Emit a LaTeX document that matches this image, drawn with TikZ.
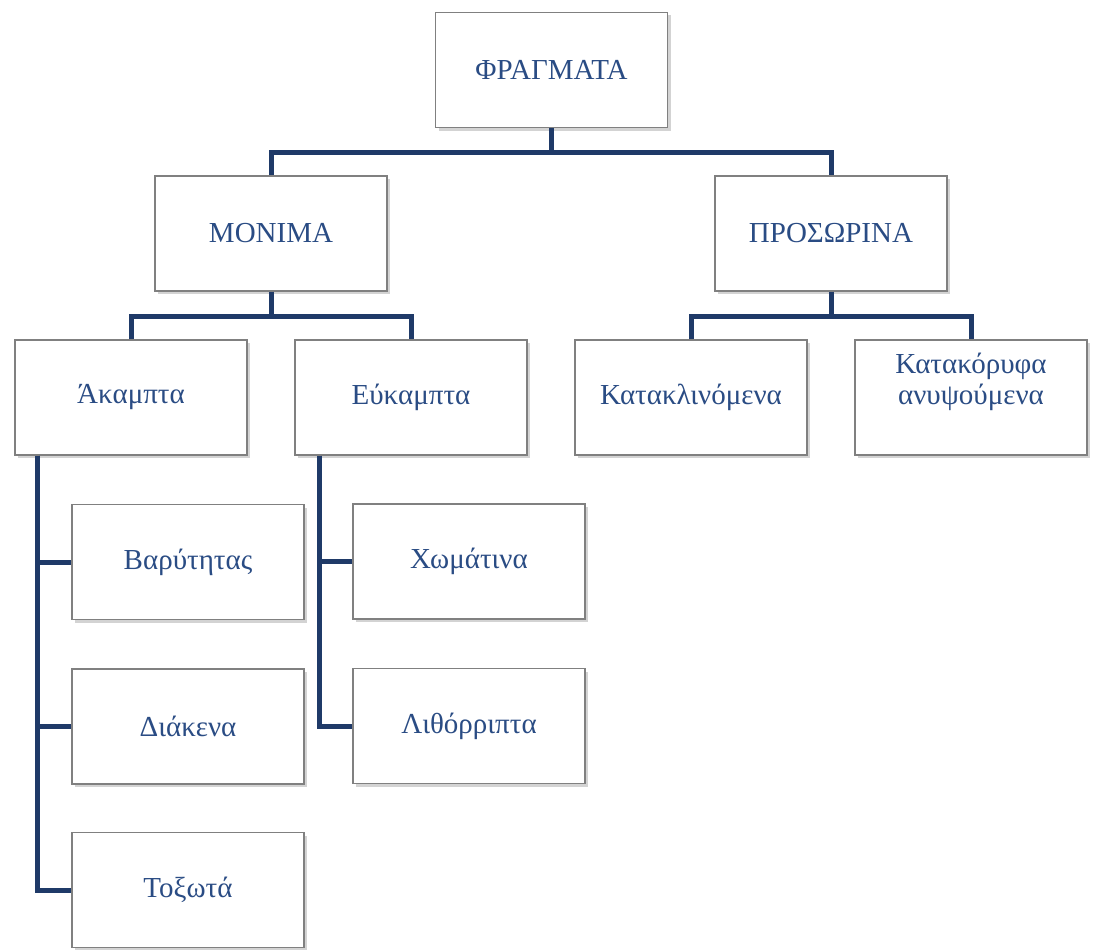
\documentclass[tikz,border=0pt]{standalone}
\usepackage{fontspec}
\setmainfont{Liberation Serif}
\usetikzlibrary{shadows}

\definecolor{linkblue}{RGB}{31,58,104}
\definecolor{textblue}{RGB}{42,76,132}
\definecolor{boxgray}{RGB}{128,128,128}

\tikzset{
  box/.style={draw=boxgray, line width=1.2pt, fill=white, text=textblue,
    minimum width=232pt, minimum height=115pt, inner sep=2pt,
    font=\fontsize{29}{31}\selectfont,
    drop shadow={opacity=0.35, shadow xshift=3pt, shadow yshift=-3pt}},
  link/.style={draw=linkblue, line width=5pt}
}

\begin{document}
\begin{tikzpicture}[ x=1pt, y=-1pt ]
\useasboundingbox (0,0) rectangle (1098,950);

\node[box] (fragm) at (551.5,70) {ΦΡΑΓΜΑΤΑ};

\node[box] (monim) at (271,233.5) {ΜΟΝΙΜΑ};
\node[box] (prosor) at (831,233.5) {ΠΡΟΣΩΡΙΝΑ};

\node[box] (akampt) at (131,397.5) {Άκαμπτα};
\node[box] (eykampt) at (411,397.5) {Εύκαμπτα};
\node[box] (katakl) at (691,397.5) {Κατακλινόμενα};
\node[box, label={[name=anyps, text=textblue, inner sep=0pt, align=center,
  anchor=north, yshift=-13pt, font=\fontsize{29}{31}\selectfont]north:Κατακόρυφα\\ανυψούμενα}]
  (katak) at (971,397.5) {};

\node[box] (baryt) at (188,562) {Βαρύτητας};
\node[box] (diak) at (188,726.5) {Διάκενα};
\node[box] (toxot) at (188,890) {Τοξωτά};

\node[box] (xomat) at (469,561.5) {Χωμάτινα};
\node[box] (lithor) at (469,726) {Λιθόρριπτα};

% tree links
\draw[link] (fragm.south) -- ++(0,24) coordinate (j0);
\draw[link] (monim.north) |- (j0) -| (prosor.north);

\draw[link] (monim.south) -- ++(0,25) coordinate (j1);
\draw[link] (akampt.north) |- (j1) -| (eykampt.north);

\draw[link] (prosor.south) -- ++(0,25) coordinate (j2);
\draw[link] (katakl.north) |- (j2) -| (katak.north);

\path (akampt.south west) ++(23,0) coordinate (a0);
\draw[link] (a0) |- (toxot.west);
\draw[link] (a0) |- (baryt.west);
\draw[link] (a0) |- (diak.west);

\path (eykampt.south west) ++(25,0) coordinate (e0);
\draw[link] (e0) |- (lithor.west);
\draw[link] (e0) |- (xomat.west);

\end{tikzpicture}
\end{document}
